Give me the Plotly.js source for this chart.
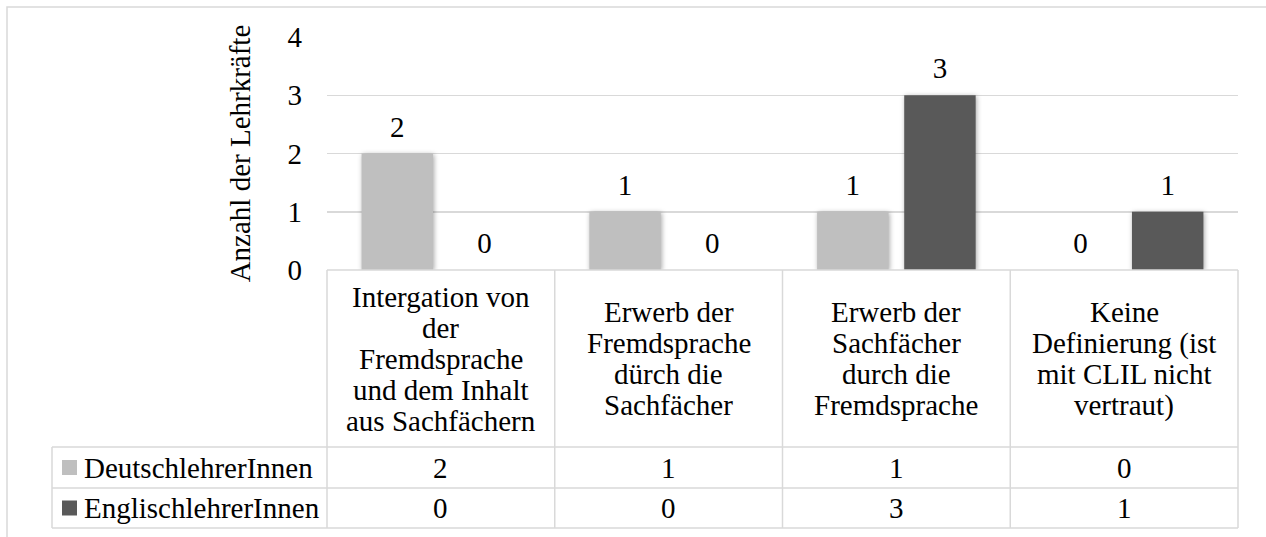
<!DOCTYPE html>
<html>
<head>
<meta charset="utf-8">
<script src="https://cdn.plot.ly/plotly-3.0.1.min.js"></script>
<style>
  html, body { margin: 0; padding: 0; background: #ffffff; }
  #chart { width: 1266px; height: 537px; }
  .barlayer .trace .point path { filter: drop-shadow(1.5px 1.5px 2.5px rgba(0,0,0,0.35)); }
  .barlayer .trace .point text { translate: 0 -8px; }
</style>
</head>
<body>
<div id="chart"></div>
<script>
// ---- data ----
const categories = [
  "Intergation von<br>der<br>Fremdsprache<br>und dem Inhalt<br>aus Sachfächern",
  "Erwerb der<br>Fremdsprache<br>dürch die<br>Sachfächer",
  "Erwerb der<br>Sachfächer<br>durch die<br>Fremdsprache",
  "Keine<br>Definierung (ist<br>mit CLIL nicht<br>vertraut)"
];
const seriesNames = ["DeutschlehrerInnen", "EnglischlehrerInnen"];
const deutschValues = [2, 1, 1, 0];
const englischValues = [0, 0, 3, 1];
const yTickValues = [0, 1, 2, 3, 4];
const yAxisTitle = "Anzahl der Lehrkräfte";

// ---- styles ----
const seriesColors = ["#bfbfbf", "#595959"];
const FONT = "Liberation Serif";
const FS = 29;
const LINE = "#d9d9d9";

// ---- geometry helpers ----
const W = 1266, H = 537;
const M = { l: 327, r: 28, t: 37, b: 267 };
const plotW = W - M.l - M.r, plotH = H - M.t - M.b;
const px2x = p => (p - M.l) / plotW;
const py2y = p => (H - M.b - p) / plotH;

const xNames = categories.map(c => c.replace(/<br>/g, " "));
const seriesValues = [deutschValues, englischValues];

const traces = seriesNames.map((name, s) => ({
  type: "bar",
  name: name,
  x: xNames,
  y: seriesValues[s],
  marker: { color: seriesColors[s] },
  text: seriesValues[s].map(String),
  textposition: "outside",
  textfont: { family: FONT, size: FS, color: "#000000" },
  cliponaxis: false,
  hoverinfo: "x+y+name"
}));

const nCat = categories.length;
// table geometry (pixels)
const headerTop = 270, headerBottom = 447, row1Bottom = 488, row2Bottom = 528;
const legendLeft = 52;
const rowCenters = [(headerBottom + row1Bottom) / 2, (row1Bottom + row2Bottom) / 2];

const shapes = [];
// outer chart border (cropped at right/bottom)
shapes.push({ type: "rect", xref: "paper", yref: "paper",
  x0: px2x(7), x1: px2x(W + 20), y0: py2y(7), y1: py2y(H + 20),
  line: { color: LINE, width: 1.5 }, fillcolor: "rgba(0,0,0,0)", layer: "below" });
// horizontal table lines
shapes.push({ type: "line", xref: "paper", yref: "paper", x0: 0, x1: 1, y0: py2y(headerTop), y1: py2y(headerTop), line: { color: LINE, width: 1.5 } });
[headerBottom, row1Bottom, row2Bottom].forEach(p => {
  shapes.push({ type: "line", xref: "paper", yref: "paper", x0: px2x(legendLeft), x1: 1, y0: py2y(p), y1: py2y(p), line: { color: LINE, width: 1.5 } });
});
// vertical table lines at category boundaries
for (let i = 0; i <= nCat; i++) {
  shapes.push({ type: "line", xref: "paper", yref: "paper", x0: i / nCat, x1: i / nCat, y0: py2y(headerTop), y1: py2y(row2Bottom), line: { color: LINE, width: 1.5 } });
}
shapes.push({ type: "line", xref: "paper", yref: "paper", x0: px2x(legendLeft), x1: px2x(legendLeft), y0: py2y(headerBottom), y1: py2y(row2Bottom), line: { color: LINE, width: 1.5 } });
// legend key squares in the table's first column
seriesColors.forEach((col, s) => {
  const cy = rowCenters[s];
  shapes.push({ type: "rect", xref: "paper", yref: "paper",
    x0: px2x(62), x1: px2x(77), y0: py2y(cy - 7.5), y1: py2y(cy + 7.5),
    line: { width: 0 }, fillcolor: col });
});

const annotations = [];
const headerCenter = py2y((headerTop + headerBottom) / 2);
const lineStep = 31;
categories.forEach((c, i) => {
  const lines = c.split("<br>");
  const n = lines.length;
  lines.forEach((ln, k) => {
    annotations.push({ xref: "x", yref: "paper", x: i, y: headerCenter,
      yshift: ((n - 1) / 2 - k) * lineStep, text: ln, showarrow: false,
      xanchor: "center", yanchor: "middle",
      font: { family: FONT, size: FS, color: "#000000" } });
  });
});
seriesValues.forEach((vals, s) => {
  annotations.push({ xref: "paper", yref: "paper", x: px2x(82), y: py2y(rowCenters[s]),
    xanchor: "left", yanchor: "middle", showarrow: false,
    text: seriesNames[s],
    font: { family: FONT, size: FS, color: "#000000" } });
  vals.forEach((v, i) => {
    annotations.push({ xref: "x", yref: "paper", x: i, y: py2y(rowCenters[s]),
      xanchor: "center", yanchor: "middle", showarrow: false, text: String(v),
      font: { family: FONT, size: FS, color: "#000000" } });
  });
});

const layout = {
  width: W, height: H,
  margin: M,
  paper_bgcolor: "#ffffff",
  plot_bgcolor: "#ffffff",
  showlegend: false,
  barmode: "group",
  bargap: 0.235,
  bargroupgap: 0.18,
  font: { family: FONT, size: FS, color: "#000000" },
  xaxis: { type: "category", showticklabels: false, showgrid: false, zeroline: false, showline: false, ticks: "", fixedrange: true },
  yaxis: {
    range: [0, 4], tickvals: yTickValues, ticktext: yTickValues.map(String),
    showgrid: true, gridcolor: LINE, gridwidth: 1.5, zeroline: false, showline: false, ticks: "",
    ticklabelstandoff: 24,
    tickfont: { family: FONT, size: FS, color: "#000000" },
    title: { text: yAxisTitle, font: { family: FONT, size: FS, color: "#000000" }, standoff: 28 },
    fixedrange: true
  },
  shapes: shapes,
  annotations: annotations
};

Plotly.newPlot("chart", traces, layout, { displayModeBar: false, staticPlot: true });
</script>
</body>
</html>
